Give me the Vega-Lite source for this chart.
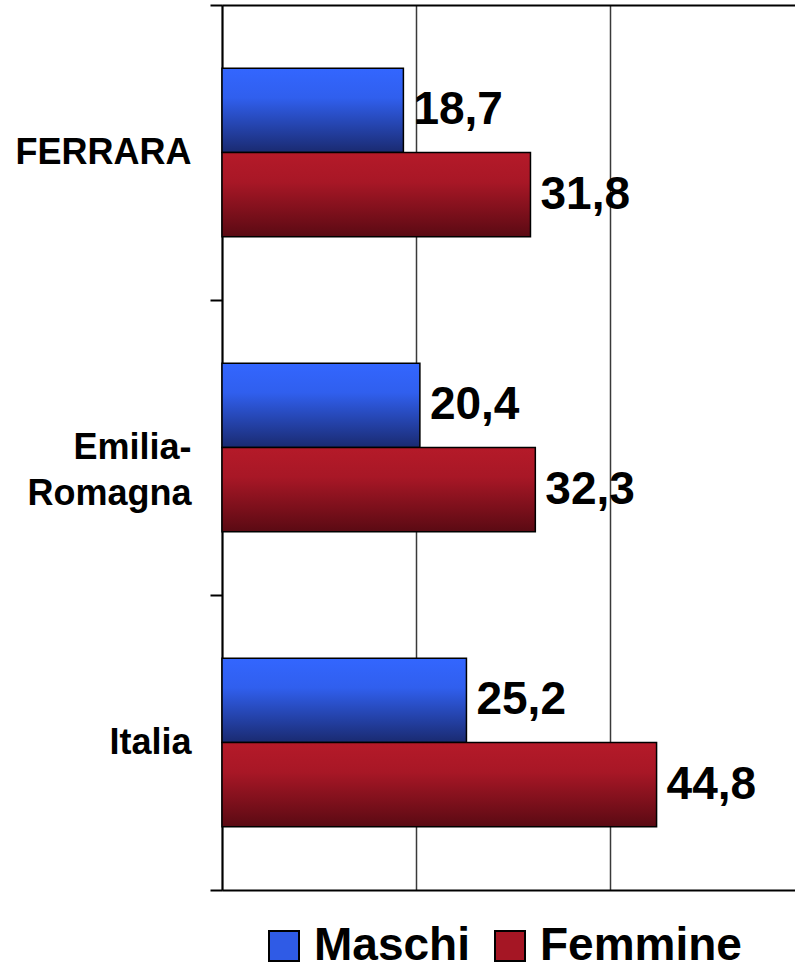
{
  "$schema": "https://vega.github.io/schema/vega-lite/v6.json",
  "width": 573,
  "height": 885,
  "autosize": {"type": "none"},
  "padding": {"left": 222, "top": 5, "right": 0, "bottom": 80},
  "config": {
    "view": {"stroke": null},
    "font": "Liberation Sans"
  },
  "data": {
    "values": [
      {"area": "FERRARA", "sesso": "Maschi", "valore": 18.7},
      {"area": "FERRARA", "sesso": "Femmine", "valore": 31.8},
      {"area": "Emilia-Romagna", "sesso": "Maschi", "valore": 20.4},
      {"area": "Emilia-Romagna", "sesso": "Femmine", "valore": 32.3},
      {"area": "Italia", "sesso": "Maschi", "valore": 25.2},
      {"area": "Italia", "sesso": "Femmine", "valore": 44.8}
    ]
  },
  "encoding": {
    "y": {
      "field": "area",
      "type": "nominal",
      "sort": ["FERRARA", "Emilia-Romagna", "Italia"],
      "scale": {"paddingInner": 0, "paddingOuter": 0},
      "axis": {
        "title": null,
        "tickBand": "extent",
        "tickSize": 12,
        "tickWidth": 2,
        "tickColor": "black",
        "domainColor": "black",
        "domainWidth": 2,
        "labelFont": "Liberation Sans",
        "labelFontSize": 36,
        "labelFontWeight": "bold",
        "labelColor": "black",
        "labelPadding": 19,
        "labelLimit": 400,
        "labelLineHeight": 46,
        "labelExpr": "datum.label == 'Emilia-Romagna' ? ['Emilia-', 'Romagna'] : datum.label"
      }
    },
    "yOffset": {
      "field": "sesso",
      "type": "nominal",
      "sort": ["Maschi", "Femmine"],
      "scale": {"paddingInner": 0, "paddingOuter": 0.75}
    }
  },
  "resolve": {"axis": {"x": "independent"}},
  "layer": [
    {
      "mark": {"type": "bar", "opacity": 0},
      "encoding": {
        "x": {
          "field": "valore",
          "type": "quantitative",
          "scale": {"domain": [0, 59.07], "nice": false, "zero": true},
          "axis": {
            "orient": "top",
            "title": null,
            "labels": false,
            "ticks": false,
            "grid": false,
            "domain": true,
            "domainColor": "black",
            "domainWidth": 2
          }
        },
        "color": {
          "field": "sesso",
          "type": "nominal",
          "sort": ["Maschi", "Femmine"],
          "scale": {"domain": ["Maschi", "Femmine"], "range": ["#2f5be6", "#a51624"]},
          "legend": {
            "title": null,
            "orient": "none",
            "direction": "horizontal",
            "legendX": 39,
            "legendY": 918,
            "padding": 0,
            "symbolType": "square",
            "symbolSize": 900,
            "symbolStrokeColor": "black",
            "symbolStrokeWidth": 2,
            "symbolOpacity": 1,
            "labelFont": "Liberation Sans",
            "labelFontSize": 46,
            "labelFontWeight": "bold",
            "labelColor": "black",
            "labelOffset": 7,
            "labelLimit": 400,
            "columnPadding": 17,
            "encode": {
              "labels": {"update": {"dy": {"value": 0}}},
              "symbols": {
                "update": {
                  "fill": {"signal": "datum.value === 'Maschi' ? {gradient: 'linear', x1: 0, y1: 0, x2: 0, y2: 1, stops: [{offset: 0, color: '#3366ff'}, {offset: 0.35, color: '#305fee'}, {offset: 1, color: '#1a2a70'}]} : {gradient: 'linear', x1: 0, y1: 0, x2: 0, y2: 1, stops: [{offset: 0, color: '#b51a29'}, {offset: 0.35, color: '#a81726'}, {offset: 1, color: '#5a0a13'}]}"},
                  "opacity": {"value": 1},
                  "stroke": {"value": "black"},
                  "strokeWidth": {"value": 2}
                }
              }
            }
          }
        }
      }
    },
    {
      "transform": [{"filter": "datum.sesso === 'Maschi'"}],
      "mark": {
        "type": "bar",
        "stroke": "black",
        "strokeWidth": 1.5,
        "color": {
          "gradient": "linear",
          "x1": 0, "y1": 0, "x2": 0, "y2": 1,
          "stops": [
            {"offset": 0, "color": "#3366ff"},
            {"offset": 0.35, "color": "#305fee"},
            {"offset": 1, "color": "#1a2a70"}
          ]
        }
      },
      "encoding": {
        "x": {"field": "valore", "type": "quantitative", "scale": {"domain": [0, 59.07], "nice": false}, "axis": null}
      }
    },
    {
      "transform": [{"filter": "datum.sesso === 'Femmine'"}],
      "mark": {
        "type": "bar",
        "stroke": "black",
        "strokeWidth": 1.5,
        "color": {
          "gradient": "linear",
          "x1": 0, "y1": 0, "x2": 0, "y2": 1,
          "stops": [
            {"offset": 0, "color": "#b51a29"},
            {"offset": 0.35, "color": "#a81726"},
            {"offset": 1, "color": "#5a0a13"}
          ]
        }
      },
      "encoding": {
        "x": {"field": "valore", "type": "quantitative", "scale": {"domain": [0, 59.07], "nice": false}, "axis": null}
      }
    },
    {
      "transform": [{"calculate": "replace(format(datum.valore, '.1f'), '.', ',')", "as": "etichetta"}],
      "mark": {"type": "text", "align": "left", "baseline": "middle", "dx": 10, "font": "Liberation Sans", "fontSize": 46, "fontWeight": "bold", "color": "black"},
      "encoding": {
        "x": {
          "field": "valore",
          "type": "quantitative",
          "scale": {"domain": [0, 59.07], "nice": false},
          "axis": {
            "orient": "bottom",
            "title": null,
            "labels": false,
            "ticks": false,
            "values": [0, 20, 40],
            "grid": true,
            "gridColor": "#3a3a3a",
            "gridWidth": 1.5,
            "domain": true,
            "domainColor": "black",
            "domainWidth": 2
          }
        },
        "text": {"field": "etichetta"}
      }
    }
  ]
}
